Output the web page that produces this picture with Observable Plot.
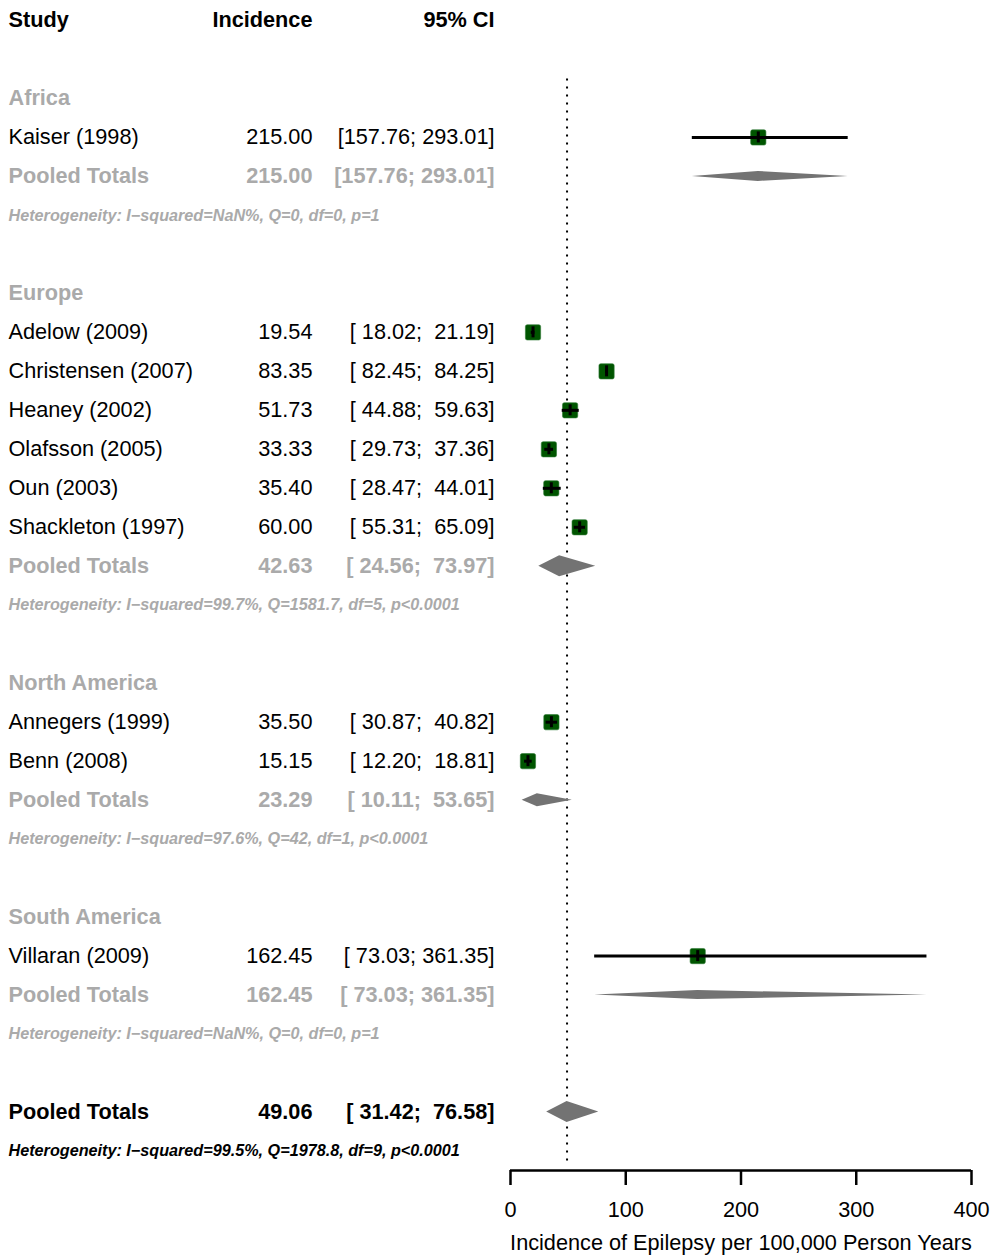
<!DOCTYPE html>
<html>
<head>
<meta charset="utf-8">
<script src="https://cdn.jsdelivr.net/npm/d3@7"></script>
<script src="https://cdn.jsdelivr.net/npm/@observablehq/plot@0.6"></script>
<style>
  html, body { margin: 0; padding: 0; background: #fff; }
  svg text { white-space: pre; }
</style>
</head>
<body>
<div id="chart"></div>
<script>
// Incidence of epilepsy per 100,000 person-years, by region (random-effects meta-analysis)
const regions = ["Africa", "Europe", "North America", "South America"];

const studyNames = [
  "Kaiser (1998)",
  "Adelow (2009)", "Christensen (2007)", "Heaney (2002)", "Olafsson (2005)", "Oun (2003)", "Shackleton (1997)",
  "Annegers (1999)", "Benn (2008)",
  "Villaran (2009)"
];
const studyRegion = [
  "Africa",
  "Europe", "Europe", "Europe", "Europe", "Europe", "Europe",
  "North America", "North America",
  "South America"
];
const studyEstimate = [215.00, 19.54, 83.35, 51.73, 33.33, 35.40, 60.00, 35.50, 15.15, 162.45];
const studyLower    = [157.76, 18.02, 82.45, 44.88, 29.73, 28.47, 55.31, 30.87, 12.20, 73.03];
const studyUpper    = [293.01, 21.19, 84.25, 59.63, 37.36, 44.01, 65.09, 40.82, 18.81, 361.35];

const pooledEstimate = [215.00, 42.63, 23.29, 162.45];
const pooledLower    = [157.76, 24.56, 10.11, 73.03];
const pooledUpper    = [293.01, 73.97, 53.65, 361.35];
const regionHeterogeneity = [
  "I\u2212squared=NaN%, Q=0, df=0, p=1",
  "I\u2212squared=99.7%, Q=1581.7, df=5, p<0.0001",
  "I\u2212squared=97.6%, Q=42, df=1, p<0.0001",
  "I\u2212squared=NaN%, Q=0, df=0, p=1"
];

const overallEstimate = 49.06;
const overallLower = 31.42;
const overallUpper = 76.58;
const overallHeterogeneity = "I\u2212squared=99.5%, Q=1978.8, df=9, p<0.0001";

const headers = ["Study", "Incidence", "95% CI"];
const xTicks = [0, 100, 200, 300, 400];
const xTitle = "Incidence of Epilepsy per 100,000 Person Years";

// ---- styling ----
const GREY_TEXT = "#aaaaaa";
const DIAMOND = "#737373";
const SQUARE = "#005500";
const FONT_SIZE = 21.7;
const HET_SIZE = 16.2;
const WIDTH = 990, HEIGHT = 1255, M_TOP = 20, M_BOTTOM = 85, M_LEFT = 510, M_RIGHT = 19;
// diamond half-heights in pixels (per region, then overall)
const diamondHalfPx = {"Africa": 5, "Europe": 10.5, "North America": 6.5, "South America": 4.5, "Overall": 10.5};

const fmtEst = d3.format(".2f");
const fmtCI = d3.format("6.2f");
const ciText = (lo, hi) => `[${fmtCI(lo)}; ${fmtCI(hi)}]`;

// ---- row layout ----
const studyRows = [];  // individual studies (regular weight)
const pooledRows = []; // pooled totals (bold)
const labelRows = [];  // region headings
const hetRows = [];
let r = 0;
regions.forEach((region, gi) => {
  r += 2;
  labelRows.push({row: r, label: region});
  studyNames.forEach((name, i) => {
    if (studyRegion[i] !== region) return;
    r += 1;
    studyRows.push({row: r, label: name, est: studyEstimate[i], lower: studyLower[i], upper: studyUpper[i]});
  });
  r += 1;
  pooledRows.push({row: r, label: "Pooled Totals", est: pooledEstimate[gi], lower: pooledLower[gi],
                   upper: pooledUpper[gi], fill: GREY_TEXT, key: region});
  r += 1;
  hetRows.push({row: r, text: "Heterogeneity: " + regionHeterogeneity[gi], fill: GREY_TEXT});
});
r += 2;
pooledRows.push({row: r, label: "Pooled Totals", est: overallEstimate, lower: overallLower, upper: overallUpper,
                 fill: "black", key: "Overall"});
r += 1;
hetRows.push({row: r, text: "Heterogeneity: " + overallHeterogeneity, fill: "black"});
const yBottom = r + 0.5;
const rowPx = (HEIGHT - M_TOP - M_BOTTOM) / yBottom;

// diamond outlines as areas: zero height at the interval ends, full height at the estimate
const diamondPts = pooledRows.flatMap(d => {
  const h = diamondHalfPx[d.key] / rowPx;
  return [
    {key: d.key, x: d.lower, y1: d.row, y2: d.row},
    {key: d.key, x: d.est, y1: d.row - h, y2: d.row + h},
    {key: d.key, x: d.upper, y1: d.row, y2: d.row}
  ];
});

// square with slightly rounded corners
const roundedSquare = {
  draw(context, size) {
    const s = Math.sqrt(size) / 2, c = 1.8;
    context.moveTo(-s + c, -s);
    context.arcTo(s, -s, s, s, c);
    context.arcTo(s, s, -s, s, c);
    context.arcTo(-s, s, -s, -s, c);
    context.arcTo(-s, -s, s, -s, c);
    context.closePath();
  }
};

const COL_STUDY = 8 - M_LEFT, COL_EST = 312 - M_LEFT, COL_CI = 494 - M_LEFT;

// three table columns for a set of rows
const tableColumns = (rows, extra) => [
  Plot.text(rows, {y: "row", text: "label", frameAnchor: "left", dx: COL_STUDY, textAnchor: "start", ...extra}),
  Plot.text(rows, {y: "row", text: d => fmtEst(d.est), frameAnchor: "left", dx: COL_EST, textAnchor: "end", ...extra}),
  Plot.text(rows, {y: "row", text: d => ciText(d.lower, d.upper), frameAnchor: "left", dx: COL_CI, textAnchor: "end", ...extra})
];

const chart = Plot.plot({
  width: WIDTH,
  height: HEIGHT,
  marginTop: M_TOP,
  marginBottom: M_BOTTOM,
  marginLeft: M_LEFT,
  marginRight: M_RIGHT,
  x: {domain: [0, 400]},
  y: {domain: [0, yBottom], reverse: true, axis: null},
  color: {type: "identity"},
  style: {fontFamily: "'Liberation Sans', Arial, sans-serif", fontSize: FONT_SIZE + "px", background: "white", color: "black"},
  marks: [
    // reference line at the overall estimate
    Plot.ruleX([overallEstimate], {x: d => d, y1: 1.5, y2: yBottom, insetBottom: 7,
      stroke: "black", strokeWidth: 2, strokeDasharray: "2,6"}),
    // pooled diamonds
    Plot.areaY(diamondPts, {x: "x", y1: "y1", y2: "y2", z: "key", fill: DIAMOND, curve: "linear"}),
    // study squares, confidence intervals and estimate ticks
    Plot.dot(studyRows, {x: "est", y: "row", symbol: roundedSquare, r: 8.6, fill: SQUARE, stroke: "#2f7a35", strokeWidth: 0.6}),
    Plot.ruleY(studyRows, {y: "row", x1: "lower", x2: "upper", stroke: "black", strokeWidth: 3}),
    Plot.ruleX(studyRows, {x: "est", y1: d => d.row - 0.5, y2: d => d.row + 0.5,
      insetTop: rowPx / 2 - 5.5, insetBottom: rowPx / 2 - 5.5, stroke: "black", strokeWidth: 3}),
    // table headers
    Plot.text([headers[0]], {y: () => 0, frameAnchor: "left", dx: COL_STUDY, textAnchor: "start", text: d => d, fontWeight: "bold"}),
    Plot.text([headers[1]], {y: () => 0, frameAnchor: "left", dx: COL_EST, textAnchor: "end", text: d => d, fontWeight: "bold"}),
    Plot.text([headers[2]], {y: () => 0, frameAnchor: "left", dx: COL_CI, textAnchor: "end", text: d => d, fontWeight: "bold"}),
    // region headings
    Plot.text(labelRows, {y: "row", text: "label", frameAnchor: "left", dx: COL_STUDY, textAnchor: "start",
      fill: GREY_TEXT, fontWeight: "bold"}),
    // table rows
    ...tableColumns(studyRows, {fill: "black"}),
    ...tableColumns(pooledRows, {fill: "fill", fontWeight: "bold"}),
    // heterogeneity statistics
    Plot.text(hetRows, {y: "row", text: "text", frameAnchor: "left", dx: COL_STUDY, textAnchor: "start",
      fill: "fill", fontWeight: "bold", fontStyle: "italic", fontSize: HET_SIZE}),
    // x axis
    Plot.ruleY([yBottom], {x1: 0, x2: 400, stroke: "black", strokeWidth: 2.5}),
    Plot.axisX(xTicks, {anchor: "bottom", tickSize: 15, tickPadding: 16, strokeWidth: 2.5, fontSize: FONT_SIZE,
      tickFormat: d => String(d), label: null}),
    Plot.text([xTitle], {frameAnchor: "bottom", dy: 79, text: d => d, fontSize: FONT_SIZE})
  ]
});
document.getElementById("chart").appendChild(chart);
</script>
</body>
</html>
